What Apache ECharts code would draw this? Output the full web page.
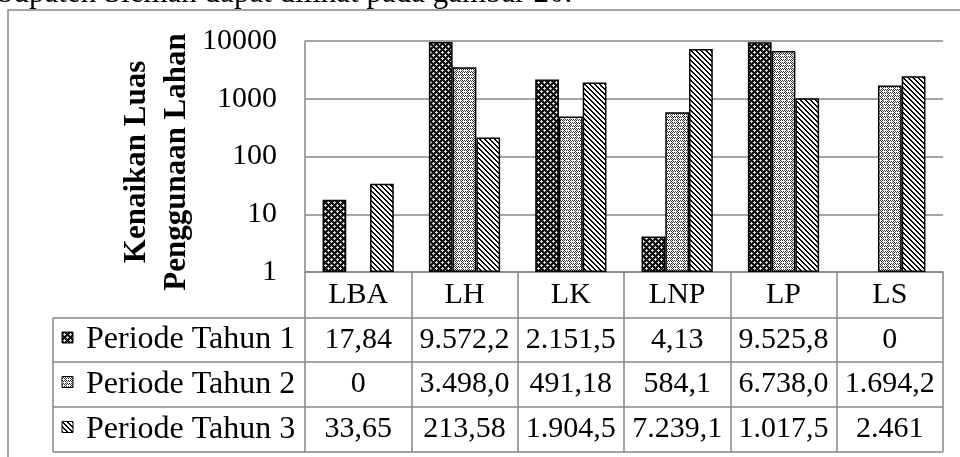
<!DOCTYPE html>
<html><head><meta charset="utf-8">
<script src="https://cdn.jsdelivr.net/npm/echarts@6/dist/echarts.min.js"></script>
<style>html,body{margin:0;padding:0;background:#fff}#c{width:960px;height:457px}</style>
</head><body><div id="c"></div>
<script>
// ---- data ----
const categories = ['LBA', 'LH', 'LK', 'LNP', 'LP', 'LS'];
const seriesNames = ['Periode Tahun 1', 'Periode Tahun 2', 'Periode Tahun 3'];
const period1 = [17.84, 9572.2, 2151.5, 4.13, 9525.8, 0];
const period2 = [0, 3498.0, 491.18, 584.1, 6738.0, 1694.2];
const period3 = [33.65, 213.58, 1904.5, 7239.1, 1017.5, 2461];
const period1Text = ['17,84', '9.572,2', '2.151,5', '4,13', '9.525,8', '0'];
const period2Text = ['0', '3.498,0', '491,18', '584,1', '6.738,0', '1.694,2'];
const period3Text = ['33,65', '213,58', '1.904,5', '7.239,1', '1.017,5', '2.461'];
const yMin = 1, yMax = 10000;
const yTitle = 'Kenaikan Luas\nPenggunaan Lahan';
const captionText = 'bupaten Sleman dapat dilihat pada gambar 20.';

// ---- styling / layout ----
const FONT = '"Liberation Serif", "Times New Roman", serif';
const GRAY = '#878787';
const FS = 30;
const gridL = 305, gridR = 943, gridT = 41, axisY = 272;
const rowLines = [318, 362, 407, 452];
const legendL = 53;

function makePattern(rows, dark, light) {
  const c = document.createElement('canvas');
  c.width = rows[0].length; c.height = rows.length;
  const ctx = c.getContext('2d');
  for (let y = 0; y < rows.length; y++) for (let x = 0; x < rows[0].length; x++) {
    ctx.fillStyle = rows[y][x] === '#' ? dark : light;
    ctx.fillRect(x, y, 1, 1);
  }
  return c;
}
const pat1 = makePattern([
  '#.####',
  '...###',
  '#.####',
  '####.#',
  '###...',
  '####.#'], '#111', '#d8d8d8');
const pat2 = makePattern([
  '#.#.#.',
  '.....#',
  '#.#.#.',
  '.#.#.#',
  '#.....',
  '.#.#.#'], '#333', '#fff');
const pat3 = makePattern([
  '##...',
  '.##..',
  '..##.',
  '...##',
  '#...#'], '#000', '#fff');
const pats = [pat1, pat2, pat3];
const allValues = [period1, period2, period3];
const allText = [period1Text, period2Text, period3Text];

const chart = echarts.init(document.getElementById('c'), null, {renderer: 'canvas'});
chart.setOption({
  animation: false,
  backgroundColor: '#fff',
  grid: {left: gridL, right: 960 - gridR, top: gridT, bottom: 457 - axisY, containLabel: false, outerBoundsMode: 'none'},
  xAxis: {
    type: 'category', data: categories,
    axisLine: {show: true, lineStyle: {color: GRAY, width: 1.5}},
    axisTick: {show: true, interval: 0, length: 452 - axisY, lineStyle: {color: GRAY, width: 1.5}},
    axisLabel: {show: true, interval: 0, fontSize: FS, fontFamily: FONT, color: '#000', margin: 23, verticalAlign: 'middle'},
    splitLine: {show: false}
  },
  yAxis: {
    type: 'log', logBase: 10, min: yMin, max: yMax,
    axisLine: {show: true, lineStyle: {color: GRAY, width: 1.5}},
    axisTick: {show: false},
    axisLabel: {fontSize: FS, fontFamily: FONT, color: '#000', margin: 28, formatter: v => String(Math.round(v))},
    splitLine: {show: true, lineStyle: {color: GRAY, width: 1.5}}
  },
  series: allValues.map((vals, i) => ({
    type: 'bar', name: seriesNames[i],
    data: vals.map(v => v > 0 ? v : '-'),
    barGap: '0%', barCategoryGap: '33%',
    silent: true,
    itemStyle: {color: {image: pats[i], repeat: 'repeat'}, borderColor: '#000', borderWidth: 1.5}
  }))
});

// ---- graphics: frame, caption, axis title, data table ----
const g = [];
g.push({type: 'text', x: -2, y: -6, style: {text: captionText, font: '31px ' + FONT, fill: '#000', align: 'left', verticalAlign: 'middle', lineHeight: 31}, silent: true});
g.push({type: 'polyline', shape: {points: [[8, 480], [8, 10], [980, 10]]}, style: {stroke: GRAY, lineWidth: 1.5, fill: null}, silent: true});
g.push({type: 'text', x: 157, y: 162, rotation: Math.PI / 2, style: {text: yTitle, font: 'bold 31px ' + FONT, fill: '#000', align: 'center', verticalAlign: 'middle', lineHeight: 40}, silent: true});
rowLines.forEach(y => g.push({type: 'line', shape: {x1: legendL, y1: y, x2: gridR, y2: y}, style: {stroke: GRAY, lineWidth: 1.5}, silent: true}));
g.push({type: 'line', shape: {x1: legendL, y1: rowLines[0], x2: legendL, y2: rowLines[3]}, style: {stroke: GRAY, lineWidth: 1.5}, silent: true});
for (let s = 0; s < 3; s++) {
  const cy = (rowLines[s] + rowLines[s + 1]) / 2;
  g.push({type: 'rect', shape: {x: 62, y: cy - 8, width: 11, height: 11}, style: {fill: {image: pats[s], repeat: 'repeat'}, stroke: '#000', lineWidth: 1}, silent: true});
  g.push({type: 'text', x: 86, y: cy, style: {text: seriesNames[s], font: '32px ' + FONT, fill: '#000', align: 'left', verticalAlign: 'middle'}, silent: true});
  categories.forEach((c, i) => {
    const cx = chart.convertToPixel({xAxisIndex: 0}, i);
    g.push({type: 'text', x: cx, y: cy, style: {text: allText[s][i], font: FS + 'px ' + FONT, fill: '#000', align: 'center', verticalAlign: 'middle'}, silent: true});
  });
}
chart.setOption({graphic: g});
</script>
</body></html>
